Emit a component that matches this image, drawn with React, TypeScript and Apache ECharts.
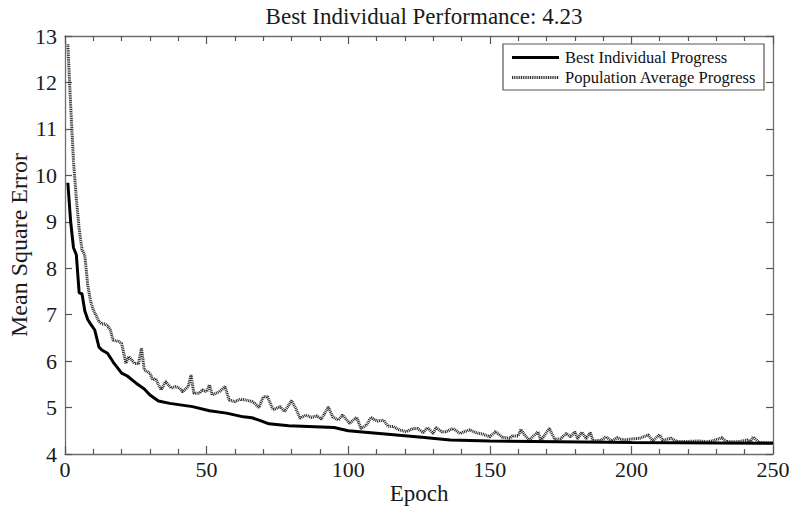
import React, { useEffect, useRef } from "react";
import * as echarts from "echarts";

const titleText = "Best Individual Performance: 4.23";
const seriesNames = ["Best Individual Progress", "Population Average Progress"];

const bestEpochs = [1, 2, 3, 4, 5, 6, 7, 8, 9, 10.5, 12, 13, 15, 17, 20, 22, 25, 28, 30, 33, 37, 45, 51, 57, 63, 66, 69, 72, 79, 95, 100, 115, 126, 136, 150, 165, 200, 250];
const bestValues = [9.84, 9.0, 8.44, 8.29, 7.47, 7.45, 7.08, 6.9, 6.8, 6.67, 6.3, 6.24, 6.17, 5.98, 5.74, 5.68, 5.53, 5.4, 5.27, 5.14, 5.09, 5.02, 4.93, 4.88, 4.8, 4.78, 4.72, 4.65, 4.61, 4.57, 4.5, 4.42, 4.36, 4.3, 4.28, 4.27, 4.25, 4.23];

const popEpochs = [1, 2, 3, 4, 5, 6, 7, 8, 9, 10, 11, 12, 13, 14, 15, 16, 17, 19, 20, 21.5, 22.5, 23.5, 24.5, 26, 27, 28, 30, 31, 32, 33, 34, 35.5, 37.5, 39, 40.5, 41.5, 43.5, 44.5, 45.5, 47.5, 48.5, 50, 51, 52, 54.5, 56.5, 58, 60, 62, 64, 66, 67, 68.5, 70, 71.5, 73.5, 76, 77.5, 80, 81.5, 83, 85, 87, 89, 90.5, 93, 94.5, 96.5, 98, 100.5, 103, 104.5, 106.5, 108, 109.5, 110.5, 112.5, 114, 116, 118, 120.5, 123, 124.5, 126.5, 128, 130, 131, 133, 134.5, 137, 139.5, 141, 143, 145, 147.5, 150, 152, 154.5, 157, 158, 160, 161, 162.5, 164, 167, 168, 171, 173, 175, 177, 178.5, 180, 181, 182.5, 184, 185.5, 186.5, 189.5, 191, 193, 195, 197, 199.5, 203, 206, 207.5, 210, 211, 214, 216, 219.5, 224, 226.5, 228.5, 232, 233.5, 237, 241, 242, 243, 245, 250];
const popValues = [12.82, 11.5, 10.3, 9.5, 8.85, 8.4, 8.28, 7.65, 7.3, 7.1, 6.98, 6.85, 6.8, 6.8, 6.76, 6.67, 6.45, 6.42, 6.38, 5.95, 6.1, 6.03, 5.95, 5.95, 6.28, 5.81, 5.74, 5.59, 5.63, 5.49, 5.38, 5.56, 5.42, 5.45, 5.42, 5.34, 5.45, 5.7, 5.31, 5.31, 5.38, 5.34, 5.49, 5.27, 5.34, 5.45, 5.16, 5.13, 5.18, 5.16, 5.13, 5.09, 5.0, 5.23, 5.23, 4.95, 5.02, 4.91, 5.15, 4.98, 4.77, 4.84, 4.79, 4.82, 4.75, 5.01, 4.8, 4.73, 4.84, 4.66, 4.79, 4.55, 4.62, 4.79, 4.73, 4.71, 4.73, 4.6, 4.59, 4.52, 4.48, 4.55, 4.55, 4.46, 4.57, 4.44, 4.57, 4.48, 4.48, 4.55, 4.44, 4.48, 4.52, 4.46, 4.43, 4.37, 4.48, 4.36, 4.34, 4.39, 4.39, 4.53, 4.39, 4.3, 4.48, 4.29, 4.55, 4.31, 4.33, 4.44, 4.37, 4.48, 4.33, 4.47, 4.33, 4.46, 4.28, 4.3, 4.37, 4.28, 4.35, 4.3, 4.32, 4.34, 4.41, 4.28, 4.42, 4.29, 4.34, 4.27, 4.27, 4.28, 4.26, 4.28, 4.35, 4.27, 4.26, 4.3, 4.26, 4.37, 4.25, 4.24];

const xName = "Epoch";
const yName = "Mean Square Error";

const FONT = "Liberation Serif";
const DOT_DASH = [1, 0.8];

export default function App() {
  const ref = useRef<HTMLDivElement>(null);
  useEffect(() => {
    if (!ref.current) return;
    const chart = echarts.init(ref.current, undefined, { renderer: "svg" });
    const axisColor = "#6e6e6e";
    const baseX = {
      type: "value",
      min: 0,
      max: 250,
      interval: 50,
      axisLine: { show: true, onZero: false, lineStyle: { color: axisColor, width: 1.3 } },
      axisTick: { show: true, inside: true, length: 8, lineStyle: { color: "#555", width: 1.2 } },
      minorTick: { show: true, splitNumber: 5, length: 5, lineStyle: { color: "#555", width: 1.2 } },
      splitLine: { show: false },
    };
    const baseY = {
      type: "value",
      min: 4,
      max: 13,
      interval: 1,
      axisLine: { show: true, onZero: false, lineStyle: { color: axisColor, width: 1.3 } },
      axisTick: { show: true, inside: true, length: 7, lineStyle: { color: "#555", width: 1.2 } },
      splitLine: { show: false },
    };
    chart.setOption({
      animation: false,
      backgroundColor: "#ffffff",
      title: {
        text: titleText,
        left: 419,
        textAlign: "center",
        top: 0,
        textStyle: { fontFamily: FONT, fontSize: 23, fontWeight: "normal", color: "#1a1a1a" },
      },
      grid: { left: 65, right: 19, top: 36, bottom: 55, outerBoundsMode: "none", containLabel: false },
      graphic: [
        {
          type: "rect",
          shape: { x: 503, y: 44, width: 261, height: 46 },
          style: { fill: "#ffffff", stroke: "#555", lineWidth: 1.2 },
          z: 10,
        },
        {
          type: "line",
          shape: { x1: 512, y1: 57.5, x2: 559, y2: 57.5 },
          style: { stroke: "#000", lineWidth: 3 },
          z: 11,
        },
        {
          type: "line",
          shape: { x1: 512, y1: 77.5, x2: 559, y2: 77.5 },
          style: { stroke: "#2a2a2a", lineWidth: 3, lineDash: DOT_DASH },
          z: 11,
        },
        {
          type: "text",
          x: 565,
          y: 57.5,
          style: { text: seriesNames[0], fontFamily: FONT, fontSize: 16.5, fill: "#111", verticalAlign: "middle" },
          z: 11,
        },
        {
          type: "text",
          x: 565,
          y: 77.5,
          style: { text: seriesNames[1], fontFamily: FONT, fontSize: 16.5, fill: "#111", verticalAlign: "middle" },
          z: 11,
        },
      ],
      xAxis: [
        {
          ...baseX,
          position: "bottom",
          name: xName,
          nameLocation: "middle",
          nameGap: 28,
          nameMoveOverlap: false,
          nameTextStyle: { fontFamily: FONT, fontSize: 23, color: "#1a1a1a" },
          axisLabel: { fontFamily: FONT, fontSize: 22, color: "#1a1a1a", margin: 4 },
        },
        {
          ...baseX,
          position: "top",
          axisLabel: { show: false },
        },
      ],
      yAxis: [
        {
          ...baseY,
          position: "left",
          name: yName,
          nameLocation: "middle",
          nameGap: 34,
          nameMoveOverlap: false,
          nameTextStyle: { fontFamily: FONT, fontSize: 24, color: "#1a1a1a" },
          axisLabel: { fontFamily: FONT, fontSize: 22, color: "#1a1a1a", margin: 8 },
        },
        {
          ...baseY,
          position: "right",
          axisLabel: { show: false },
        },
      ],
      series: [
        {
          name: seriesNames[0],
          type: "line",
          showSymbol: false,
          symbol: "none",
          data: bestEpochs.map((e, i) => [e, bestValues[i]]),
          lineStyle: { color: "#000000", width: 3 },
          z: 3,
        },
        {
          name: seriesNames[1],
          type: "line",
          showSymbol: false,
          symbol: "none",
          data: popEpochs.map((e, i) => [e, popValues[i]]),
          lineStyle: { color: "#2a2a2a", width: 3, type: DOT_DASH },
          z: 2,
        },
      ],
    });
    return () => chart.dispose();
  }, []);
  return <div ref={ref} style={{ position: "absolute", left: 0, top: 0, width: 792, height: 509 }} />;
}
